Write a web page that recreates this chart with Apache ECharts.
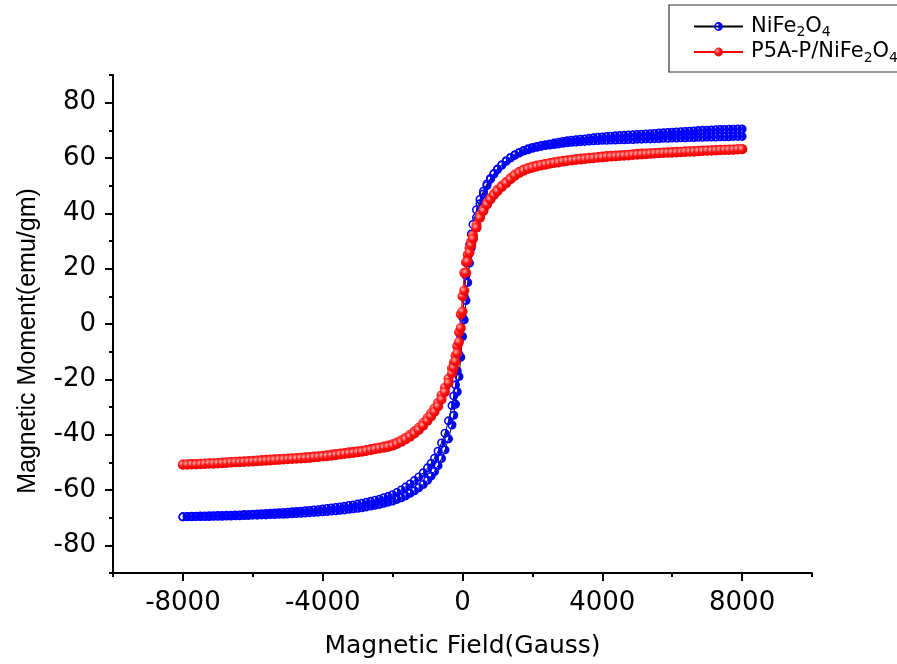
<!DOCTYPE html>
<html>
<head>
<meta charset="utf-8">
<script src="https://cdn.jsdelivr.net/npm/echarts@6/dist/echarts.min.js"></script>
<style>
  html, body { margin: 0; padding: 0; background: #fff; }
  #chart { width: 897px; height: 664px; }
</style>
</head>
<body>
<div id="chart"></div>
<script>
// Applied field (Gauss) for the descending sweep, +8000 -> -8000
const FIELD_DOWN = [
  8000, 7875, 7750, 7625, 7500, 7375, 7250, 7125, 7000, 6875, 6750, 6625, 6500, 6375, 6250, 6125,
  6000, 5875, 5750, 5625, 5500, 5375, 5250, 5125, 5000, 4875, 4750, 4625, 4500, 4375, 4250, 4125,
  4000, 3875, 3750, 3625, 3500, 3375, 3250, 3125, 3000, 2875, 2750, 2625, 2500, 2375, 2250, 2125,
  2000, 1875, 1750, 1625, 1500, 1375, 1250, 1125, 1000, 900, 800, 700, 600, 500, 400, 300, 250, 200, 150, 100, 50,
  0,
  -50, -100, -150, -200, -250, -300, -400, -500, -600, -700, -800, -900, -1000, -1125, -1250, -1375, -1500, -1625, -1750, -1875, -2000,
  -2125, -2250, -2375, -2500, -2625, -2750, -2875, -3000, -3125, -3250, -3375, -3500, -3625, -3750, -3875, -4000,
  -4125, -4250, -4375, -4500, -4625, -4750, -4875, -5000, -5125, -5250, -5375, -5500, -5625, -5750, -5875, -6000,
  -6125, -6250, -6375, -6500, -6625, -6750, -6875, -7000, -7125, -7250, -7375, -7500, -7625, -7750, -7875, -8000
];
// The return sweep visits the same field steps in the opposite order
const FIELD_UP = FIELD_DOWN.slice().reverse();

// NiFe2O4 magnetic moment (emu/gm), descending then ascending sweep
const NIFE_DOWN = [
  70.5, 70.5, 70.4, 70.4, 70.3, 70.3, 70.2, 70.1, 70.0, 70.0, 69.9, 69.8, 69.7, 69.6, 69.5, 69.4,
  69.3, 69.2, 69.1, 69.0, 68.9, 68.8, 68.7, 68.6, 68.5, 68.4, 68.3, 68.2, 68.1, 68.0, 67.9, 67.8,
  67.6, 67.5, 67.3, 67.1, 66.9, 66.8, 66.6, 66.4, 66.2, 66.0, 65.7, 65.4, 65.1, 64.8, 64.5, 64.2,
  63.8, 63.3, 62.7, 62.0, 61.2, 60.2, 59.0, 57.6, 56.0, 54.4, 52.6, 50.6, 48.0, 45.0, 41.3, 36.0, 32.5, 28.5, 23.5, 17.5, 10.0,
  2.5,
  -4.5, -11.0, -17.0, -22.0, -26.0, -29.5, -35.0, -39.5, -43.0, -46.0, -48.5, -50.4, -52.0, -53.8, -55.3, -56.6, -57.8, -58.9, -60.0, -60.9, -61.7,
  -62.3, -62.8, -63.3, -63.7, -64.1, -64.4, -64.8, -65.1, -65.4, -65.6, -65.9, -66.1, -66.3, -66.5, -66.7, -66.9,
  -67.1, -67.2, -67.4, -67.5, -67.7, -67.8, -67.9, -68.0, -68.1, -68.2, -68.3, -68.4, -68.5, -68.6, -68.7, -68.8,
  -68.9, -68.9, -69.0, -69.0, -69.1, -69.1, -69.2, -69.2, -69.3, -69.3, -69.4, -69.4, -69.5, -69.5, -69.6, -69.7
];
const NIFE_UP = [
  -69.7, -69.7, -69.7, -69.6, -69.6, -69.6, -69.6, -69.5, -69.5, -69.5, -69.4, -69.4, -69.3, -69.3, -69.2, -69.2,
  -69.1, -69.1, -69.0, -69.0, -68.9, -68.9, -68.8, -68.8, -68.7, -68.6, -68.5, -68.4, -68.3, -68.2, -68.1, -68.0,
  -67.9, -67.8, -67.6, -67.5, -67.3, -67.2, -67.0, -66.8, -66.6, -66.4, -66.1, -65.8, -65.5, -65.2, -64.8, -64.4,
  -64.0, -63.4, -62.8, -62.1, -61.2, -60.3, -59.2, -58.0, -56.5, -55.0, -53.3, -51.2, -48.6, -45.5, -41.5, -36.5, -33.0, -29.0, -24.5, -19.0, -12.0,
  -4.5,
  1.5, 8.5, 15.0, 22.0, 27.5, 31.5, 38.5, 43.5, 47.0, 50.0, 52.3, 54.2, 55.8, 57.4, 58.8, 60.0, 61.0, 61.8, 62.5, 63.0, 63.5,
  63.9, 64.2, 64.5, 64.7, 64.9, 65.1, 65.3, 65.5, 65.7, 65.8, 65.9, 66.0, 66.1, 66.2, 66.3, 66.4,
  66.4, 66.5, 66.5, 66.6, 66.6, 66.7, 66.7, 66.8, 66.8, 66.9, 66.9, 67.0, 67.0, 67.1, 67.1, 67.2,
  67.2, 67.3, 67.3, 67.4, 67.4, 67.5, 67.5, 67.6, 67.6, 67.6, 67.7, 67.7, 67.7, 67.8, 67.8, 67.8
];

// P5A-P/NiFe2O4 magnetic moment (emu/gm), descending then ascending sweep
const P5A_DOWN = [
  63.2, 63.2, 63.1, 63.1, 63.0, 63.0, 62.9, 62.8, 62.7, 62.7, 62.6, 62.5, 62.4, 62.4, 62.3, 62.3,
  62.2, 62.1, 62.0, 61.9, 61.8, 61.7, 61.6, 61.6, 61.5, 61.4, 61.2, 61.1, 61.0, 60.9, 60.8, 60.7,
  60.5, 60.4, 60.2, 60.1, 59.9, 59.8, 59.6, 59.4, 59.2, 59.0, 58.7, 58.5, 58.2, 57.9, 57.6, 57.3,
  56.9, 56.4, 55.8, 55.0, 54.0, 52.8, 51.3, 50.0, 48.5, 47.0, 45.5, 43.8, 41.5, 39.2, 35.8, 32.0, 29.8, 27.5, 25.0, 22.3, 18.5,
  10.0,
  3.5, -3.0, -8.0, -11.5, -14.0, -16.0, -19.8, -23.0, -25.8, -28.5, -30.5, -32.3, -34.0, -35.8, -37.5, -38.8, -40.0, -41.1, -42.0, -42.8, -43.5,
  -43.9, -44.3, -44.6, -44.9, -45.2, -45.5, -45.8, -46.0, -46.2, -46.4, -46.6, -46.8, -47.0, -47.2, -47.4, -47.6,
  -47.8, -47.9, -48.1, -48.2, -48.3, -48.4, -48.5, -48.6, -48.7, -48.8, -48.9, -49.0, -49.1, -49.2, -49.3, -49.4,
  -49.5, -49.6, -49.7, -49.8, -49.9, -50.0, -50.1, -50.2, -50.3, -50.3, -50.4, -50.5, -50.6, -50.6, -50.7, -50.8
];
const P5A_UP = [
  -50.9, -50.9, -50.8, -50.8, -50.7, -50.6, -50.5, -50.5, -50.4, -50.3, -50.2, -50.1, -50.0, -50.0, -49.9, -49.8,
  -49.7, -49.6, -49.5, -49.4, -49.3, -49.2, -49.1, -49.0, -48.9, -48.8, -48.7, -48.6, -48.5, -48.4, -48.2, -48.1,
  -47.9, -47.8, -47.6, -47.4, -47.2, -47.0, -46.8, -46.6, -46.4, -46.2, -45.9, -45.6, -45.3, -45.0, -44.7, -44.4,
  -44.0, -43.4, -42.6, -41.7, -40.7, -39.6, -38.3, -36.8, -35.0, -33.4, -31.7, -29.8, -27.3, -24.6, -21.3, -17.8, -15.8, -13.5, -10.6, -6.5, -1.5,
  4.5,
  12.0, 18.5, 22.5, 25.8, 28.5, 30.8, 34.8, 38.4, 40.9, 43.2, 45.0, 46.6, 48.0, 49.5, 50.9, 52.3, 53.6, 54.6, 55.4, 56.0, 56.5,
  56.9, 57.3, 57.6, 57.9, 58.2, 58.4, 58.7, 58.9, 59.1, 59.3, 59.5, 59.6, 59.8, 59.9, 60.1, 60.2,
  60.4, 60.5, 60.6, 60.7, 60.8, 60.9, 61.1, 61.2, 61.3, 61.4, 61.5, 61.6, 61.7, 61.8, 61.9, 61.9,
  62.0, 62.1, 62.2, 62.3, 62.3, 62.4, 62.5, 62.6, 62.6, 62.7, 62.8, 62.9, 62.9, 63.0, 63.1, 63.2
];

// Axis ticks and labels
const X_MAJOR = [-8000, -4000, 0, 4000, 8000];
const X_MINOR = [-10000, -6000, -2000, 2000, 6000, 10000];
const Y_MAJOR = [-80, -60, -40, -20, 0, 20, 40, 60, 80];
const Y_MINOR = [-90, -70, -50, -30, -10, 10, 30, 50, 70, 90];

const SERIES_NAMES = ['NiFe2O4', 'P5A-P/NiFe2O4'];
const LEGEND_TEXT = {
  'NiFe2O4': '{a|NiFe}{s|2}{n|O}{s|4}',
  'P5A-P/NiFe2O4': '{a|P5A-P/NiFe}{s|2}{n|O}{s|4}'
};

const pairs = (xs, ys) => xs.map((x, i) => [x, ys[i]]);
const nifeLoop = pairs(FIELD_DOWN, NIFE_DOWN).concat(pairs(FIELD_UP, NIFE_UP));
const p5aLoop = pairs(FIELD_DOWN, P5A_DOWN).concat(pairs(FIELD_UP, P5A_UP));

// Half-filled circle marker: ring with its right half filled
const HALF_DOT = 'path://M10 0A10 10 0 1 1 -10 0A10 10 0 1 1 10 0ZM0 -6.5A6.5 6.5 0 0 0 0 6.5L0 -6.5Z';

const TICK_FONT = { fontFamily: 'DejaVu Sans', fontSize: 26, color: '#000' };
const AXIS_LINE = { color: '#000', width: 2 };

function majorAxis(min, max, ticks, extra) {
  return Object.assign({
    type: 'value', min: min, max: max,
    axisLine: { show: true, onZero: false, lineStyle: AXIS_LINE },
    axisTick: { show: true, customValues: ticks, length: 8, lineStyle: AXIS_LINE },
    axisLabel: Object.assign({ customValues: ticks, margin: 17, formatter: v => String(v) }, TICK_FONT),
    splitLine: { show: false }
  }, extra);
}
function minorAxis(min, max, ticks, position) {
  return {
    type: 'value', min: min, max: max, position: position,
    axisLine: { show: false, onZero: false },
    axisTick: { show: true, customValues: ticks, length: 4, lineStyle: AXIS_LINE },
    axisLabel: { show: false },
    splitLine: { show: false }
  };
}

const chart = echarts.init(document.getElementById('chart'), null, { renderer: 'canvas' });

chart.setOption({
  animation: false,
  backgroundColor: '#fff',
  grid: { left: 113, right: 85, top: 75, bottom: 89, containLabel: false },
  legend: {
    orient: 'vertical',
    left: 669, top: 5,
    padding: [11, 3, 7, 24],
    itemGap: 2,
    itemWidth: 49,
    itemHeight: 11,
    borderColor: '#333',
    borderWidth: 1.2,
    backgroundColor: '#fff',
    data: SERIES_NAMES,
    formatter: name => LEGEND_TEXT[name],
    textStyle: {
      rich: {
        a: { fontFamily: 'DejaVu Sans', fontSize: 21, lineHeight: 26, color: '#000', padding: [0, 0, 0, 3] },
        n: { fontFamily: 'DejaVu Sans', fontSize: 21, lineHeight: 26, color: '#000' },
        s: { fontFamily: 'DejaVu Sans', fontSize: 14, lineHeight: 14, verticalAlign: 'bottom', color: '#000' }
      }
    }
  },
  xAxis: [
    majorAxis(-10000, 10000, X_MAJOR, {
      position: 'bottom',
      name: 'Magnetic Field(Gauss)',
      nameLocation: 'middle',
      nameGap: 61,
      nameTextStyle: { fontFamily: 'DejaVu Sans', fontSize: 25, color: '#000' }
    }),
    minorAxis(-10000, 10000, X_MINOR, 'bottom')
  ],
  yAxis: [
    majorAxis(-90, 90, Y_MAJOR, {
      position: 'left',
      name: 'Magnetic Moment(emu/gm)',
      nameLocation: 'middle',
      nameGap: 72,
      nameTextStyle: { fontFamily: 'Liberation Sans', fontSize: 25, color: '#000', padding: [0, 34, 0, 0] }
    }),
    minorAxis(-90, 90, Y_MINOR, 'left')
  ],
  series: [
    {
      name: SERIES_NAMES[0],
      type: 'line',
      xAxisIndex: 0, yAxisIndex: 0,
      data: nifeLoop,
      showAllSymbol: true,
      symbol: HALF_DOT,
      symbolSize: 9,
      lineStyle: { color: '#000', width: 1 },
      itemStyle: { color: '#0000ff' },
      emphasis: { disabled: true },
      silent: true,
      z: 2
    },
    {
      name: SERIES_NAMES[1],
      type: 'line',
      xAxisIndex: 0, yAxisIndex: 0,
      data: p5aLoop,
      showAllSymbol: true,
      symbol: 'circle',
      symbolSize: 10,
      lineStyle: { color: '#ff0000', width: 1 },
      itemStyle: {
        color: {
          type: 'radial', x: 0.35, y: 0.35, r: 0.75,
          colorStops: [
            { offset: 0, color: '#ffb0b0' },
            { offset: 0.45, color: '#ff1010' },
            { offset: 1, color: '#e00000' }
          ]
        }
      },
      emphasis: { disabled: true },
      silent: true,
      z: 3
    }
  ]
});
</script>
</body>
</html>
